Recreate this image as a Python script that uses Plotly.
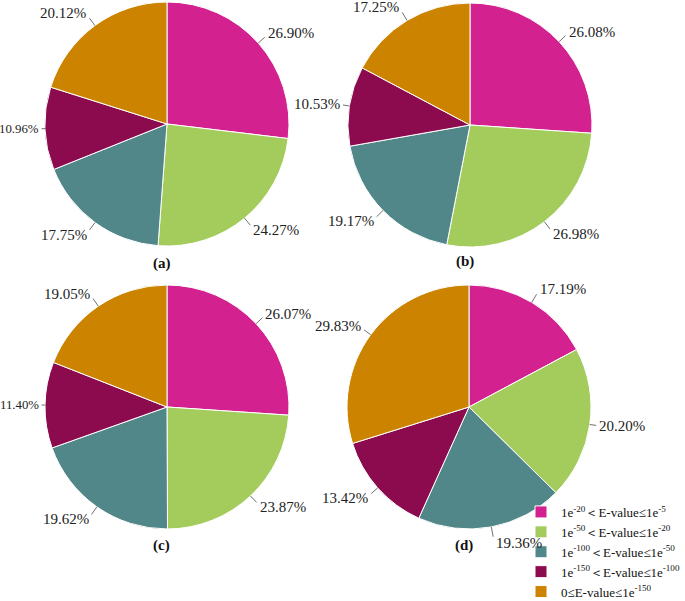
import math
import plotly.graph_objects as go

W, H = 685, 601

labels = [
    "1e<sup>-20</sup>＜E-value≤1e<sup>-5</sup>",
    "1e<sup>-50</sup>＜E-value≤1e<sup>-20</sup>",
    "1e<sup>-100</sup>＜E-value≤1e<sup>-50</sup>",
    "1e<sup>-150</sup>＜E-value≤1e<sup>-100</sup>",
    "0≤E-value≤1e<sup>-150</sup>",
]
colors = ["#D3218F", "#A3CC5C", "#52878A", "#8C0A4E", "#CC8400"]

panel_names = ["(a)", "(b)", "(c)", "(d)"]
vals_a = [26.90, 24.27, 17.75, 10.96, 20.12]
vals_b = [26.08, 26.98, 19.17, 10.53, 17.25]
vals_c = [26.07, 23.87, 19.62, 11.40, 19.05]
vals_d = [17.19, 20.20, 19.36, 13.42, 29.83]
all_vals = [vals_a, vals_b, vals_c, vals_d]

# layout (pixel) of the pies
centers = [(167, 124), (470, 125), (167, 407), (469, 407)]
R = 122
panel_label_pos = [(162, 263), (465, 261), (161, 545), (464, 545)]

FONT = "Liberation Serif, Times New Roman, serif"
LABEL_SIZE = 15
EM_W = 0.5 * 4 + 0.25 + 0.833   # width of "dd.dd%" in em


def px(x):
    return x / W


def py(y):
    return 1 - y / H


fig = go.Figure()
shapes = []
annotations = []

for i, vals in enumerate(all_vals):
    cx, cy = centers[i]
    fig.add_trace(go.Pie(
        values=vals,
        labels=labels,
        sort=False,
        direction="clockwise",
        rotation=0,
        marker=dict(colors=colors, line=dict(color="white", width=1)),
        textinfo="none",
        hovertemplate="%{label}: %{value:.2f}%<extra></extra>",
        domain=dict(x=[px(cx - R), px(cx + R)], y=[py(cy + R), py(cy - R)]),
        showlegend=(i == 0),
    ))
    total = sum(vals)
    cum = 0.0
    for v in vals:
        mid = (cum + v / 2) / total
        cum += v
        th = 2 * math.pi * mid
        ux, uy = math.sin(th), -math.cos(th)
        L = 6 + 4 * abs(math.cos(th))
        side = 1 if ux >= 0 else -1
        size = LABEL_SIZE
        x0, y0 = cx + R * ux, cy + R * uy
        x1, y1 = cx + (R + L) * ux, cy + (R + L) * uy
        tx = x1 + side * 1
        if side < 0 and tx - size * EM_W < 1:
            # label near the left edge: shorter leader and a slightly smaller font
            L = 3.5
            x1, y1 = cx + (R + L) * ux, cy + (R + L) * uy
            tx = x1 - 1
            size = max(12, min(LABEL_SIZE, (tx - 1) / EM_W))
        shapes.append(dict(type="line", xref="paper", yref="paper",
                           x0=px(x0), y0=py(y0), x1=px(x1), y1=py(y1),
                           line=dict(color="#707070", width=1)))
        ty = y1 + uy * 6
        annotations.append(dict(
            x=px(tx), y=py(ty), xref="paper", yref="paper",
            text=f"{v:.2f}%", showarrow=False,
            xanchor="left" if side > 0 else "right", yanchor="middle",
            font=dict(family=FONT, size=size, color="#222222"),
        ))
    lx, ly = panel_label_pos[i]
    annotations.append(dict(
        x=px(lx), y=py(ly), xref="paper", yref="paper",
        text=f"<b>{panel_names[i]}</b>", showarrow=False,
        xanchor="center", yanchor="middle",
        font=dict(family=FONT, size=15, color="#111111"),
    ))

fig.update_layout(
    width=W, height=H,
    margin=dict(l=0, r=0, t=0, b=0, autoexpand=False),
    paper_bgcolor="white",
    plot_bgcolor="white",
    shapes=shapes,
    annotations=annotations,
    legend=dict(
        x=px(521), y=py(497), xanchor="left", yanchor="top",
        font=dict(family=FONT, size=13, color="#111111"),
        bgcolor="rgba(0,0,0,0)",
        traceorder="normal",
    ),
)

fig.write_html(
    "out.html",
    config={"displayModeBar": False},
    post_script="document.body.style.margin='0';document.body.style.padding='0';",
)
